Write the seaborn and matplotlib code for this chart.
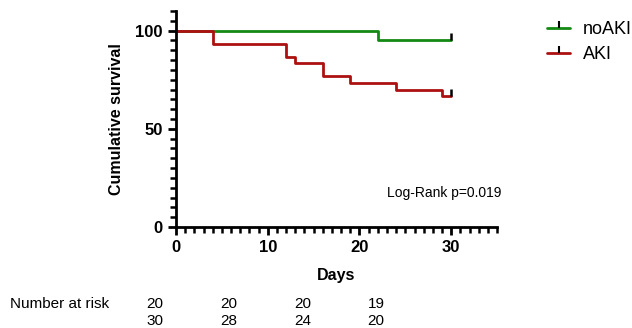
import pandas as pd
import seaborn as sns
import numpy as np
import matplotlib.pyplot as plt
from matplotlib.lines import Line2D
from matplotlib.ticker import MultipleLocator

# survival curves (Kaplan-Meier steps)
noaki_days = [0, 22, 30]
noaki_surv = [100, 95, 95]
aki_days = [0, 4, 12, 13, 16, 19, 24, 29, 30]
aki_surv = [100, 93.33, 86.67, 83.33, 76.67, 73.33, 70.0, 66.67, 66.67]

groups = ['noAKI', 'AKI']
colors = ['#138a13', '#ad1010']

risk_days = [0, 10, 20, 30]
risk_noaki = [20, 20, 20, 19]
risk_aki = [30, 28, 24, 20]

df = pd.concat([
    pd.DataFrame({'day': noaki_days, 'surv': noaki_surv, 'group': 'noAKI'}),
    pd.DataFrame({'day': aki_days, 'surv': aki_surv, 'group': 'AKI'}),
])

sns.set_style('ticks')
plt.rcParams['font.family'] = ['Liberation Sans', 'DejaVu Sans']
plt.rcParams['text.color'] = 'black'
plt.rcParams['axes.edgecolor'] = 'black'
plt.rcParams['axes.labelcolor'] = 'black'
plt.rcParams['xtick.color'] = 'black'
plt.rcParams['ytick.color'] = 'black'

fig = plt.figure(figsize=(6.32, 3.28), dpi=100)
ax = fig.add_axes([0.2785, 0.308, 0.508, 0.6585])

sns.lineplot(data=df, x='day', y='surv', hue='group', palette=dict(zip(groups, colors)),
             drawstyle='steps-post', estimator=None, linewidth=2, legend=False, ax=ax)

# censor marks at the end of follow-up (tick pointing up)
ax.plot([noaki_days[-1]], [noaki_surv[-1]], marker=2, color='black', ms=5, mew=1.8,
        linestyle='none')
ax.plot([aki_days[-1]], [aki_surv[-1]], marker=2, color='black', ms=5, mew=1.8,
        linestyle='none')

ax.set_xlim(0, 35)
ax.set_ylim(0, 110)
ax.set_xticks([0, 10, 20, 30])
ax.set_yticks([0, 50, 100])
ax.xaxis.set_minor_locator(MultipleLocator(1))
ax.yaxis.set_minor_locator(MultipleLocator(5))
ax.tick_params(which='major', length=6, width=2, labelsize=12)
ax.tick_params(which='minor', length=4, width=1.8)
for lab in ax.get_xticklabels() + ax.get_yticklabels():
    lab.set_fontweight('bold')
for s in ['left', 'bottom']:
    ax.spines[s].set_linewidth(2)
sns.despine(ax=ax)

ax.set_xlabel('Days', fontsize=11.5, fontweight='bold', labelpad=9)
ax.set_ylabel('Cumulative survival', fontsize=11.5, fontweight='bold', labelpad=8)

ax.text(387, 328 - 193, 'Log-Rank p=0.019', transform=None, fontsize=10,
        ha='left', va='center')

handles = [Line2D([0], [0], color=c, lw=2, marker=2, mec='black', ms=5, mew=1.5)
           for c in colors]
fig.legend(handles, groups, loc='upper left', bbox_to_anchor=(547 / 632, 1 - 21 / 328),
           frameon=False, fontsize=13, handlelength=1.3, handletextpad=0.7,
           labelspacing=0.45, borderpad=0, borderaxespad=0)

# number at risk table
rax = fig.add_axes([155 / 632, 0.0, (376 - 155) / 632, 1 - 296 / 328])
rax.set_xlim(0, 30)
rax.set_ylim(328, 296)
rax.axis('off')
for d, a, b in zip(risk_days, risk_noaki, risk_aki):
    rax.text(d, 304, str(a), ha='center', va='center', fontsize=11)
    rax.text(d, 321, str(b), ha='center', va='center', fontsize=11)
fig.text(10 / 632, 1 - 304 / 328, 'Number at risk', ha='left', va='center', fontsize=11)

fig.savefig('out.png', dpi=100)
